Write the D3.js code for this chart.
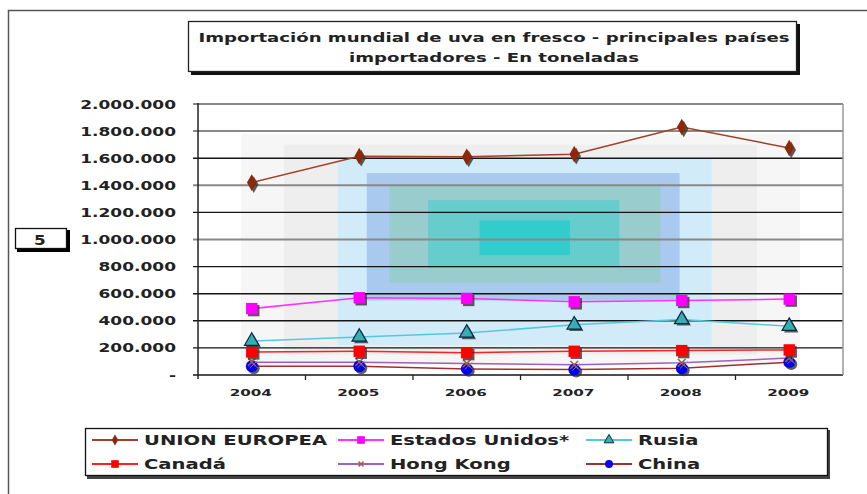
<!DOCTYPE html>
<html>
<head>
<meta charset="utf-8">
<script src="https://cdn.jsdelivr.net/npm/d3@7"></script>
<style>
  body { margin: 0; background: #fff; }
  text { font-family: "DejaVu Sans", Verdana, sans-serif; font-weight: bold; fill: #222; }
</style>
</head>
<body>
<svg id="chart" width="867" height="494"></svg>
<script>
// data (toneladas)
const years = ['2004', '2005', '2006', '2007', '2008', '2009'];
const unionEuropea = [1420000, 1615000, 1610000, 1630000, 1830000, 1675000];
const estadosUnidos = [490000, 570000, 565000, 540000, 550000, 560000];
const rusia = [250000, 280000, 310000, 370000, 410000, 360000];
const canada = [170000, 175000, 165000, 175000, 180000, 185000];
const hongKong = [95000, 95000, 85000, 75000, 90000, 125000];
const china = [65000, 65000, 45000, 40000, 50000, 95000];
const yTicks = [0, 200000, 400000, 600000, 800000, 1000000, 1200000, 1400000, 1600000, 1800000, 2000000];
const titleLines = ['Importación mundial de uva en fresco - principales países', 'importadores - En toneladas'];

const series = [
    { name: 'UNION EUROPEA', values: unionEuropea, line: '#a0402a', fill: '#8b2a08', shape: d3.symbolDiamond, size: 80 },
    { name: 'Estados Unidos*', values: estadosUnidos, line: '#ff33ff', fill: '#ff00ff', shape: d3.symbolSquare, size: 130 },
    { name: 'Rusia', values: rusia, line: '#55c8e0', fill: '#33b0b0', shape: d3.symbolTriangle, size: 90, stroke: '#112244' },
    { name: 'Canadá', values: canada, line: '#ff2020', fill: '#ff0000', shape: d3.symbolSquare, size: 130 },
    { name: 'Hong Kong', values: hongKong, line: '#a060c0', fill: '#b07050', shape: d3.symbolTimes, size: 40, stroke: '#a06040' },
    { name: 'China', values: china, line: '#a03030', fill: '#0000ee', shape: d3.symbolCircle, size: 110 }
];

// background glow: [from index, to index, top value, bottom value, colour]
const glow = [
    [-0.1, 5.1, 1780000, 70000, '#f6f6f6'],
    [0.3, 4.7, 1700000, 150000, '#eeeeee'],
    [0.8, 4.28, 1600000, 220000, '#d2ebf9'],
    [1.07, 3.98, 1490000, 550000, '#a9c9ef'],
    [1.28, 3.8, 1400000, 680000, '#99cccc'],
    [1.64, 3.42, 1290000, 790000, '#66cccc'],
    [2.12, 2.96, 1140000, 885000, '#33cccc']
];

const svg = d3.select('#chart');
const pLeft = 198, pRight = 843, pTop = 104, pBottom = 375;

const x = d3.scaleBand().domain(years).range([pLeft, pRight]);
const y = d3.scaleLinear().domain([0, 2000000]).range([pBottom, pTop]);
const cx = d => x(d) + x.bandwidth() / 2;
const xi = i => x(years[0]) + x.bandwidth() / 2 + i * x.step();

// stretched text, the original was resized wider
function stretched(g, str, px, py, size, sx, anchor) {
    return g.append('text')
        .attr('transform', `translate(${px},${py}) scale(${sx},1)`)
        .attr('font-size', size)
        .attr('text-anchor', anchor || 'start')
        .text(str);
}

// outer frame
svg.append('path').attr('d', 'M8.5,494V10.5H867').attr('fill', 'none').attr('stroke', '#555').attr('stroke-width', 1.5);

// title box
svg.append('rect').attr('x', 191).attr('y', 24).attr('width', 609).attr('height', 51).attr('fill', '#111');
svg.append('rect').attr('x', 188.5).attr('y', 21.5).attr('width', 608).attr('height', 50)
    .attr('fill', '#fff').attr('stroke', '#222').attr('stroke-width', 1.3);
titleLines.forEach((t, i) => stretched(svg, t, 494, 42 + i * 20, 12.5, 1.45, 'middle'));

// small "5" box at left
svg.append('rect').attr('x', 17).attr('y', 230).attr('width', 53).attr('height', 22).attr('fill', '#000');
svg.append('rect').attr('x', 15.5).attr('y', 228.5).attr('width', 51).attr('height', 20)
    .attr('fill', '#fff').attr('stroke', '#111').attr('stroke-width', 1.3);
stretched(svg, '5', 34, 245, 14, 1.2);

// glow
svg.append('g').selectAll('rect').data(glow).join('rect')
    .attr('x', d => xi(d[0]))
    .attr('y', d => y(d[2]))
    .attr('width', d => xi(d[1]) - xi(d[0]))
    .attr('height', d => y(d[3]) - y(d[2]))
    .attr('fill', d => d[4]);

// grid
svg.append('g').selectAll('line').data(yTicks).join('line')
    .attr('x1', pLeft - 5).attr('x2', pRight)
    .attr('y1', d => y(d)).attr('y2', d => y(d))
    .attr('stroke', (d, i) => (i % 2 === 1 && i > 4) || i === 10 ? '#888' : '#151515')
    .attr('stroke-width', (d, i) => (i % 2 === 1 && i > 4) || i === 10 ? 2 : 1.4);
svg.append('line').attr('x1', pRight).attr('x2', pRight).attr('y1', pTop).attr('y2', pBottom)
    .attr('stroke', '#999').attr('stroke-width', 1.5);

// axes
svg.append('line').attr('x1', pLeft).attr('x2', pLeft).attr('y1', pTop - 1).attr('y2', pBottom + 4)
    .attr('stroke', '#222').attr('stroke-width', 1.5);
const yl = svg.append('g');
yTicks.forEach(v => {
    const label = v === 0 ? '-' : d3.format(',')(v).replace(/,/g, '.');
    stretched(yl, label, 176, y(v) + 4.5, 11.5, 1.48, 'end');
});
svg.append('g').selectAll('line').data(years.slice(1)).join('line')
    .attr('x1', d => x(d)).attr('x2', d => x(d))
    .attr('y1', pBottom).attr('y2', pBottom + 5)
    .attr('stroke', '#222').attr('stroke-width', 1.3);
const xl = svg.append('g');
years.forEach(d => stretched(xl, d, cx(d) - 1, 396, 9.5, 1.6, 'middle'));

// series, drawn bottom first
const line = d3.line().x((d, i) => cx(years[i])).y(d => y(d));
const order = [5, 4, 3, 2, 1, 0];
order.forEach(k => {
    const s = series[k];
    svg.append('path').datum(s.values)
        .attr('d', line)
        .attr('fill', 'none')
        .attr('stroke', s.line)
        .attr('stroke-width', 1.5);
});
order.forEach(k => {
    const s = series[k];
    const sym = d3.symbol(s.shape, s.size);
    const g = svg.append('g');
    g.selectAll('path.sh').data(s.values).join('path')
        .attr('class', 'sh')
        .attr('d', sym)
        .attr('transform', (d, i) => `translate(${cx(years[i]) + 2},${y(d) + 2})`)
        .attr('fill', s.shape === d3.symbolTimes ? 'none' : '#333')
        .attr('stroke', s.shape === d3.symbolTimes ? '#999' : 'none')
        .attr('opacity', 0.8);
    g.selectAll('path.mk').data(s.values).join('path')
        .attr('class', 'mk')
        .attr('d', sym)
        .attr('transform', (d, i) => `translate(${cx(years[i])},${y(d)})`)
        .attr('fill', s.fill)
        .attr('stroke', s.stroke || 'none')
        .attr('stroke-width', s.shape === d3.symbolTimes ? 1.5 : 1.2);
});

// legend
svg.append('rect').attr('x', 87).attr('y', 430).attr('width', 743).attr('height', 49).attr('fill', '#444');
svg.append('rect').attr('x', 85.5).attr('y', 428.5).attr('width', 742).attr('height', 47)
    .attr('fill', '#fff').attr('stroke', '#111').attr('stroke-width', 1.3);
const colX = [92, 338, 586];
series.forEach((s, i) => {
    const lx = colX[i % 3], ly = 440 + Math.floor(i / 3) * 24;
    const g = svg.append('g');
    g.append('line').attr('x1', lx).attr('x2', lx + 46).attr('y1', ly).attr('y2', ly)
        .attr('stroke', s.line).attr('stroke-width', 2);
    g.append('path').attr('d', d3.symbol(s.shape, s.size * 0.45))
        .attr('transform', `translate(${lx + 23},${ly})`)
        .attr('fill', s.fill).attr('stroke', s.stroke || 'none')
        .attr('stroke-width', s.shape === d3.symbolTimes ? 1.5 : 1);
    stretched(g, s.name, lx + 52, ly + 5, 13.5, 1.45);
});
</script>
</body>
</html>
